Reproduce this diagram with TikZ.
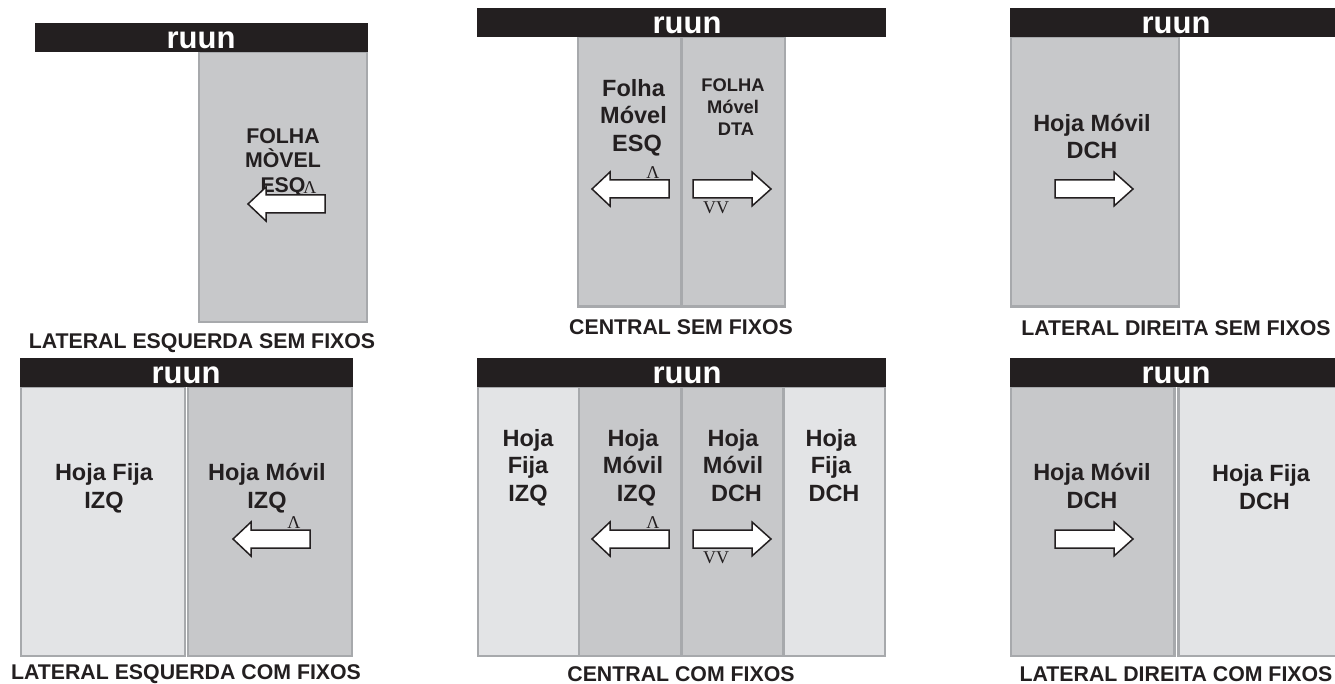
\documentclass[tikz,border=0pt]{standalone}
\usepackage{fontspec}
\usepackage{xcolor}
\setmainfont{Liberation Sans}
\newfontfamily\serifgreek{Liberation Serif}
\usetikzlibrary{positioning}
\definecolor{tinta}{HTML}{231F20}
\definecolor{borde}{HTML}{A7A9AC}
\definecolor{movil}{HTML}{C7C8CA}
\definecolor{fija}{HTML}{E3E4E6}

\tikzset{
  hojamovil/.style={draw=borde,fill=movil,line width=2.8pt},
  hojafija/.style={draw=borde,fill=fija,line width=2.8pt},
  carril/.style={fill=tinta},
  marca/.style={font=\fontsize{31}{31}\selectfont\bfseries,text=white,inner sep=0pt},
  rotulo/.style={font=\fontsize{23.5}{27.5}\selectfont\bfseries,text=tinta,align=center,inner sep=0pt,
    execute at begin node=\strut,execute at end node=\strut},
  titulo/.style={font=\fontsize{21.3}{21.3}\selectfont\bfseries,text=tinta,inner sep=0pt},
  signo/.style={font=\serifgreek\fontsize{18}{18}\selectfont,text=tinta,inner sep=0pt},
  flechaesq/.pic={
    \draw[fill=white,draw=tinta,line width=1.5pt]
      (0,0) -- (18,-17) -- (18,-9) -- (77,-9) -- (77,9) -- (18,9) -- (18,17) -- cycle;
  },
  flechadch/.pic={
    \draw[fill=white,draw=tinta,line width=1.5pt]
      (0,0) -- (-19,-17) -- (-19,-9) -- (-78,-9) -- (-78,9) -- (-19,9) -- (-19,17) -- cycle;
  }
}

\begin{document}
\begin{tikzpicture}[x=1pt,y=-1pt]
\clip (0,0) rectangle (1335,684);

% hojas
\draw[hojamovil] (199,52) rectangle (367,322);
\foreach \xa/\xb in {578/681.5,681.5/785} {
  \draw[hojamovil] (\xa,37) rectangle (\xb,306.5);
}
\draw[hojamovil] (1011,37) rectangle (1179,306.5);
\draw[hojafija] (21,387) rectangle (185,656);
\draw[hojamovil] (188,387) rectangle (352,656);
\draw[hojafija] (478,387) rectangle (579,656);
\draw[hojafija] (783.5,387) rectangle (885,656);
\foreach \xa/\xb in {579/681.5,681.5/783.5} {
  \draw[hojamovil] (\xa,387) rectangle (\xb,656);
}
\draw[hojafija] (1178.5,387) rectangle (1340,656);
\draw[hojamovil] (1011,387) rectangle (1174.5,656);

% carriles
\fill[carril] (35,23) rectangle (368,52);
\fill[carril] (477,8) rectangle (886,37);
\fill[carril] (1010,8) rectangle (1335,37);
\fill[carril] (20,358) rectangle (353,387);
\fill[carril] (477,358) rectangle (886,387);
\fill[carril] (1010,358) rectangle (1335,387);
\foreach \nombre/\x/\y in {ma/201/40,mb/687/25,mc/1176/25,md/186/375,me/687/375,mf/1176/375} {
  \node[marca] (\nombre) at (\x,\y) {ruun};
}

% rotulos
\node[rotulo,font=\fontsize{21.3}{24.3}\selectfont\bfseries] (r1) at (283,164) {FOLHA\\MÒVEL\\ESQ};
\node[rotulo] (r2) at (633.5,119.5) {Folha\\Móvel\\\hspace*{7pt}ESQ};
\node[rotulo,font=\fontsize{18.3}{21.7}\selectfont\bfseries] (r3) at (733,110.5) {FOLHA\\Móvel\\\hspace*{6pt}DTA};
\node[rotulo] (r4) at (1092,140.5) {Hoja Móvil\\DCH};
\node[rotulo] (r5) at (104,490) {Hoja Fija\\IZQ};
\node[rotulo] (r6) at (267,490) {Hoja Móvil\\IZQ};
\node[rotulo] (r7) at (528,469.5) {Hoja\\Fija\\IZQ};
\node[rotulo] (r8) at (633,469.5) {Hoja\\Móvil\\\hspace*{7pt}IZQ};
\node[rotulo] (r9) at (733,469.5) {Hoja\\Móvil\\\hspace*{7pt}DCH};
\node[rotulo] (r10) at (831,469.5) {Hoja\\Fija\\\hspace*{6pt}DCH};
\node[rotulo] (r11) at (1092,490) {Hoja Móvil\\DCH};
\node[rotulo] (r12) at (1261,491) {Hoja Fija\\\hspace*{7pt}DCH};

% signos
\node[signo] (s1) at (310,188) {Λ};
\node[signo] (s2) at (653,173) {Λ};
\node[signo] (s3) at (716,207.5) {VV};
\node[signo] (s4) at (294,523) {Λ};
\node[signo] (s5) at (653,523) {Λ};
\node[signo] (s6) at (716,557.5) {VV};

% flechas
\pic at (248,204) {flechaesq};
\pic at (592,189) {flechaesq};
\pic at (771,189) {flechadch};
\pic at (1133,189) {flechadch};
\pic at (233,539) {flechaesq};
\pic at (592,539) {flechaesq};
\pic at (771,539) {flechadch};
\pic at (1133,539) {flechadch};

% titulos
\node[titulo] (t1) at (202,343) {LATERAL ESQUERDA SEM FIXOS};
\node[titulo] (t2) at (681,327) {CENTRAL SEM FIXOS};
\node[titulo] (t3) at (1176,328) {LATERAL DIREITA SEM FIXOS};
\node[titulo] (t4) at (186,674) {LATERAL ESQUERDA COM FIXOS};
\node[titulo] (t5) at (681,674) {CENTRAL COM FIXOS};
\node[titulo] (t6) at (1176,674) {LATERAL DIREITA COM FIXOS};
\end{tikzpicture}
\end{document}
